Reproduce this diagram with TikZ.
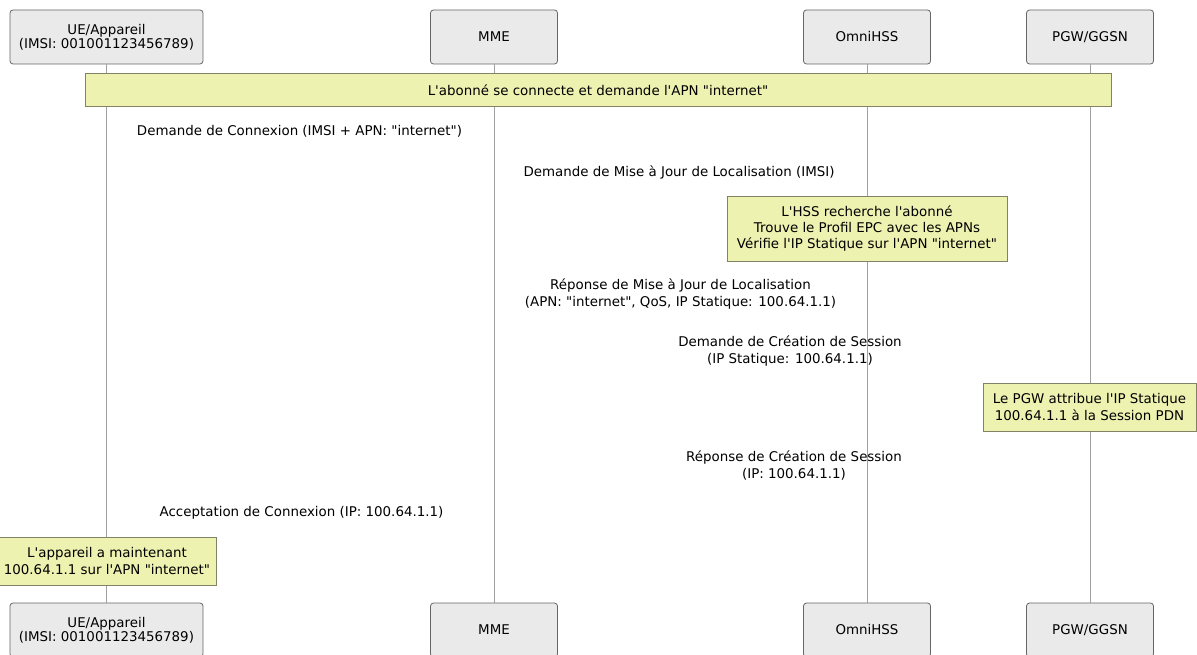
\documentclass[tikz,border=0pt]{standalone}
\usepackage{fontspec}
\newfontfamily\dv{DejaVu Sans}
\definecolor{boxfill}{RGB}{234,234,234}
\definecolor{boxline}{RGB}{102,102,102}
\definecolor{notefill}{RGB}{238,242,176}
\definecolor{noteline}{RGB}{130,130,100}
\definecolor{lifeline}{RGB}{160,160,160}
\begin{document}
\begin{tikzpicture}[x=1pt,y=-1pt,
  actor/.style={draw=boxline,fill=boxfill,rounded corners=3pt,line width=0.8pt,inner sep=0pt,align=center,font=\dv\fontsize{13.4}{14}\selectfont},
  notebox/.style={draw=noteline,fill=notefill,line width=0.8pt,inner sep=0pt,align=center,font=\dv\fontsize{13.4}{16.3}\selectfont},
  msg/.style={align=center,inner sep=0pt,font=\dv\fontsize{13.4}{16.3}\selectfont},
  life/.style={draw=lifeline,line width=0.8pt}]
\useasboundingbox (0,0) rectangle (1197,655);
% top actors
\node[actor,minimum width=193pt,minimum height=54pt] (ueT) at (106.5,37) {UE/Appareil\\(IMSI: 001001123456789)};
\node[actor,minimum width=127pt,minimum height=54pt] (mmeT) at (494,37) {MME};
\node[actor,minimum width=127pt,minimum height=54pt] (hssT) at (867,37) {OmniHSS};
\node[actor,minimum width=127pt,minimum height=54pt] (pgwT) at (1090,37) {PGW/GGSN};
% bottom actors
\node[actor,minimum width=193pt,minimum height=54pt] (ueB) at (106.5,630) {UE/Appareil\\(IMSI: 001001123456789)};
\node[actor,minimum width=127pt,minimum height=54pt] (mmeB) at (494,630) {MME};
\node[actor,minimum width=127pt,minimum height=54pt] (hssB) at (867,630) {OmniHSS};
\node[actor,minimum width=127pt,minimum height=54pt] (pgwB) at (1090,630) {PGW/GGSN};
% lifelines
\draw[life] (ueT.south) -- (ueB.north);
\draw[life] (mmeT.south) -- (mmeB.north);
\draw[life] (hssT.south) -- (hssB.north);
\draw[life] (pgwT.south) -- (pgwB.north);
% notes
\node[notebox,minimum width=1026pt,minimum height=33pt] (n1) at (598,90) {L'abonné se connecte et demande l'APN "internet"};
\node[notebox,minimum width=280pt,minimum height=65pt] (n2) at (867,228.5) {L'HSS recherche l'abonné\\Trouve le Profil EPC avec les APNs\\Vérifie l'IP Statique sur l'APN "internet"};
\node[notebox,minimum width=213pt,minimum height=48pt] (n3) at (1089.5,407) {Le PGW attribue l'IP Statique\\100.64.1.1 à la Session PDN};
\node[notebox,minimum width=219pt,minimum height=48pt] (n4) at (107,561) {L'appareil a maintenant\\100.64.1.1 sur l'APN "internet"};
% messages
\node[msg] (m1) at (299.5,131) {Demande de Connexion (IMSI + APN: "internet")};
\node[msg] (m2) at (679,172) {Demande de Mise à Jour de Localisation (IMSI)};
\node[msg] (m3) at (680.5,294) {Réponse de Mise à Jour de Localisation\\(APN: "internet", QoS, IP Statique: 100.64.1.1)};
\node[msg] (m4) at (790,351) {Demande de Création de Session\\(IP Statique: 100.64.1.1)};
\node[msg] (m5) at (794,465.5) {Réponse de Création de Session\\(IP: 100.64.1.1)};
\node[msg] (m6) at (301.5,513) {Acceptation de Connexion (IP: 100.64.1.1)};
\end{tikzpicture}
\end{document}
